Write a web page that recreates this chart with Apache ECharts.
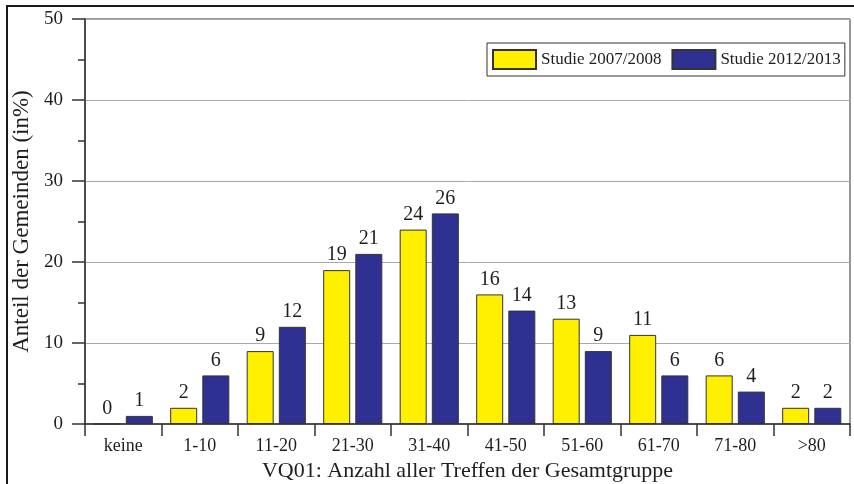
<!DOCTYPE html>
<html>
<head>
<meta charset="utf-8">
<script src="https://cdn.jsdelivr.net/npm/echarts@6/dist/echarts.min.js"></script>
<style>html,body{margin:0;padding:0;background:#fff;}#c{width:854px;height:484px;}</style>
</head>
<body>
<div id="c"></div>
<script>
var categories = ['keine', '1-10', '11-20', '21-30', '31-40', '41-50', '51-60', '61-70', '71-80', '>80'];
var study2007 = [0, 2, 9, 19, 24, 16, 13, 11, 6, 2];
var study2012 = [1, 6, 12, 21, 26, 14, 9, 6, 4, 2];
var seriesNames = ['Studie 2007/2008', 'Studie 2012/2013'];
var yTicks = [0, 10, 20, 30, 40, 50];

var FONT = '"Liberation Serif", "DejaVu Serif", serif';
var TXT = '#1e1e1e';
var chart = echarts.init(document.getElementById('c'), null, {renderer: 'canvas'});

function barSeries(name, data, color) {
  return {
    name: name,
    type: 'bar',
    data: data,
    barWidth: 27,
    barGap: '19%',
    itemStyle: {color: color, borderColor: '#333', borderWidth: 1},
    label: {show: true, position: 'top', distance: 5, fontFamily: FONT, fontSize: 20, color: TXT},
    emphasis: {disabled: true},
    animation: false
  };
}

chart.setOption({
  animation: false,
  textStyle: {fontFamily: FONT},
  graphic: [{
    type: 'rect',
    shape: {x: 7, y: 6, width: 900, height: 520},
    style: {fill: 'none', stroke: '#1a1a1a', lineWidth: 2},
    silent: true, z: 100
  }],
  grid: {left: 85, top: 19, right: 4, bottom: 60, containLabel: false, outerBoundsMode: 'none',
         show: true, borderColor: '#333', borderWidth: 1, backgroundColor: 'transparent'},
  legend: {
    left: 487, top: 43,
    padding: [6, 4, 6, 5],
    icon: 'rect',
    itemWidth: 43, itemHeight: 19, itemGap: 10,
    borderColor: '#333', borderWidth: 1,
    textStyle: {fontFamily: FONT, fontSize: 17, color: TXT},
    data: seriesNames,
    selectedMode: false
  },
  xAxis: {
    type: 'category',
    data: categories,
    name: 'VQ01: Anzahl aller Treffen der Gesamtgruppe',
    nameLocation: 'middle',
    nameGap: 35,
    nameTextStyle: {fontFamily: FONT, fontSize: 22, color: TXT},
    axisLine: {lineStyle: {color: '#333', width: 1.5}},
    axisTick: {show: true, length: 12, lineStyle: {color: '#333', width: 1.5}},
    axisLabel: {margin: 13, fontFamily: FONT, fontSize: 18, color: TXT},
    z: 5
  },
  yAxis: {
    type: 'value',
    min: yTicks[0], max: yTicks[yTicks.length - 1], interval: 10,
    name: 'Anteil der Gemeinden (in%)',
    nameLocation: 'middle',
    nameGap: 52,
    nameTextStyle: {fontFamily: FONT, fontSize: 23, color: TXT},
    axisLine: {show: true, lineStyle: {color: '#333', width: 1.5}},
    axisTick: {show: true, length: 13, lineStyle: {color: '#333', width: 1.5}},
    minorTick: {show: true, splitNumber: 2, length: 7, lineStyle: {color: '#333', width: 1.5}},
    axisLabel: {margin: 22, fontFamily: FONT, fontSize: 19, color: TXT},
    splitLine: {show: true, lineStyle: {color: '#aaaaaa', width: 1}}
  },
  series: [
    barSeries(seriesNames[0], study2007, '#FFF000'),
    barSeries(seriesNames[1], study2012, '#2E3192')
  ]
});
</script>
</body>
</html>
